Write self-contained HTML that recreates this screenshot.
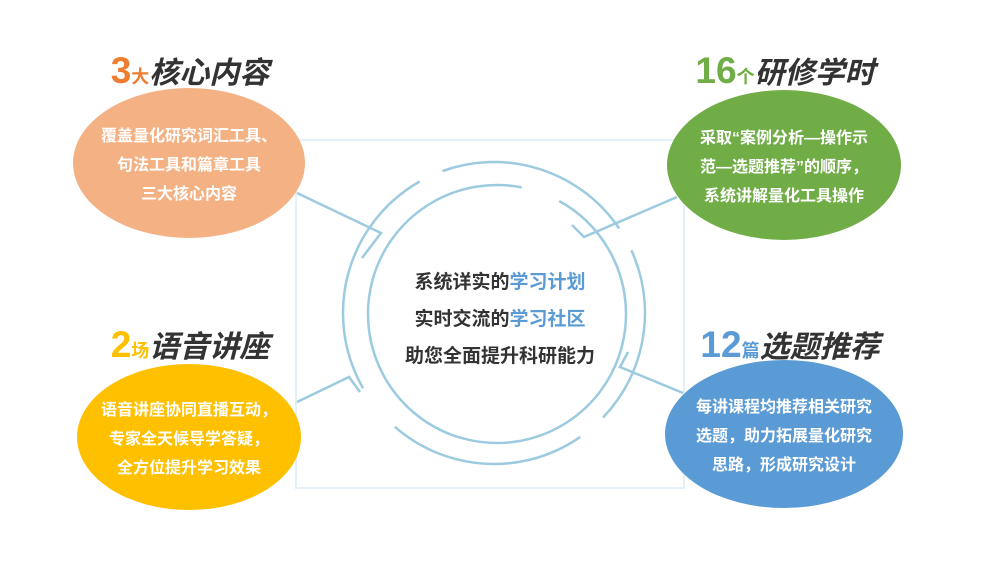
<!DOCTYPE html>
<html><head><meta charset="utf-8"><style>
body{margin:0;width:1005px;height:572px;background:#fff;overflow:hidden;font-family:"Liberation Sans","Noto Sans CJK SC",sans-serif}
svg{position:absolute;left:0;top:0}
.t{position:absolute;text-align:center;font-weight:bold;white-space:nowrap}
.e{position:absolute;border-radius:50%;color:#fff;font-weight:bold;font-size:16px;line-height:29px;text-align:center;display:flex;align-items:center;justify-content:center;white-space:nowrap;padding-top:4px;box-sizing:border-box}
.n{font-size:37px}
.s{font-size:18px}
.h{font-size:30px;font-style:italic;color:#333}
</style></head><body>
<svg width="1005" height="572">
<rect x="296" y="140" width="388" height="348" fill="none" stroke="#e3f0f9" stroke-width="2"/>
<g fill="none" stroke="#9ccbe0" stroke-width="2.5">
<circle cx="497" cy="314" r="129" stroke-dasharray="700 40 70 30" transform="rotate(-30 497 314)"/>
<circle cx="494" cy="313" r="151" stroke-dasharray="120 25 200 25 180 30 200 50" transform="rotate(-165 494 313)"/>
<polyline points="297,193 381,233 362,258"/>
<polyline points="677,197 584,237 572,225"/>
<polyline points="297,402 349,377 360,392"/>
<polyline points="683,393 620,367 628,352"/>
</g>
</svg>
<div class="t" style="left:90px;top:48px;width:200px"><span class="n" style="color:#ed7d31">3</span><span class="s" style="color:#ed7d31">大</span><span class="h">核心内容</span></div>
<div class="t" style="left:680px;top:48px;width:210px"><span class="n" style="color:#70ad47">16</span><span class="s" style="color:#70ad47">个</span><span class="h">研修学时</span></div>
<div class="t" style="left:90px;top:322px;width:200px"><span class="n" style="color:#ffc000">2</span><span class="s" style="color:#ffc000">场</span><span class="h">语音讲座</span></div>
<div class="t" style="left:690px;top:322px;width:200px"><span class="n" style="color:#5b9bd5">12</span><span class="s" style="color:#5b9bd5">篇</span><span class="h">选题推荐</span></div>
<div class="e" style="left:73px;top:88px;width:232px;height:150px;background:#f4b183">覆盖量化研究词汇工具、<br>句法工具和篇章工具<br>三大核心内容</div>
<div class="e" style="left:667px;top:90px;width:234px;height:150px;background:#70ad47">采取“案例分析—操作示<br>范—选题推荐”的顺序，<br>系统讲解量化工具操作</div>
<div class="e" style="left:77px;top:364px;width:224px;height:146px;background:#ffc000">语音讲座协同直播互动，<br>专家全天候导学答疑，<br>全方位提升学习效果</div>
<div class="e" style="left:665px;top:360px;width:238px;height:148px;background:#5b9bd5">每讲课程均推荐相关研究<br>选题，助力拓展量化研究<br>思路，形成研究设计</div>
<div class="t" style="left:370px;top:264px;width:260px;font-size:19px;line-height:37px;color:#333">系统详实的<span style="color:#5b9bd5">学习计划</span><br>实时交流的<span style="color:#5b9bd5">学习社区</span><br>助您全面提升科研能力</div>
</body></html>
